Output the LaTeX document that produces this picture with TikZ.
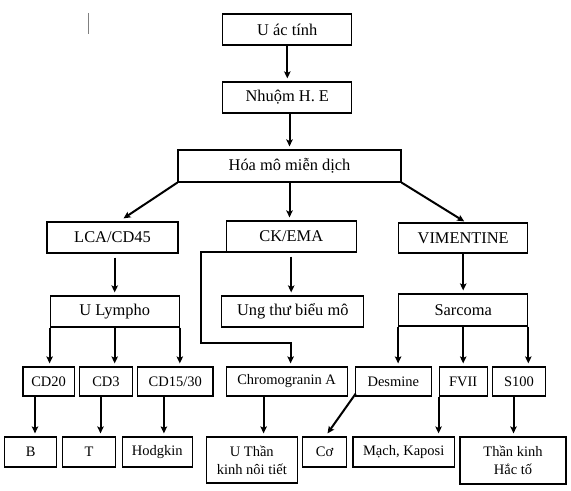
\documentclass[tikz,border=0pt]{standalone}
\usepackage{fontspec}
\setmainfont{Liberation Serif}
\usetikzlibrary{arrows.meta}

\tikzset{
 hop/.style={draw, line width=1.2bp, minimum height=31bp, inner sep=1pt, align=center, font=\fontsize{16.4bp}{19bp}\selectfont},
 hopnho/.style={hop, minimum height=29bp, font=\fontsize{14.5bp}{18bp}\selectfont},
 mui/.style={->, line width=2bp, shorten >=3bp},
}

\begin{document}
\begin{tikzpicture}[x=1bp, y=-1bp, >={Stealth[length=7bp,width=6.5bp,inset=1.5bp]}]
\useasboundingbox (0,0) rectangle (571,491);
\draw[gray, line width=0.8bp] (88.5,13)--(88.5,34);
% tang tren
\node[hop, minimum width=129bp] (act) at (287.3,29.5) {U ác tính};
\node[hop, minimum width=129bp] (nhuom) at (287.3,97.5) {Nhuộm H. E};
\node[hop, minimum width=223bp, minimum height=32bp] (hoa) at (289.5,166) {Hóa mô miễn dịch};
\node[hop, minimum width=131bp] (lca) at (112.5,237.5) {LCA/CD45};
\node[hop, minimum width=130bp] (ck) at (291.2,236.5) {CK/EMA};
\node[hop, minimum width=129bp, minimum height=30bp] (vim) at (463.2,238) {VIMENTINE};
\node[hop, minimum width=129bp] (lym) at (114.7,311.5) {U Lympho};
\node[hop, minimum width=142bp] (ung) at (292.8,311.5) {Ung thư biểu mô};
\node[hop, minimum width=129bp, minimum height=32bp] (sar) at (463.2,310) {Sarcoma};
% dau an
\node[hopnho, minimum width=51.3bp] (cd20) at (48.6,381.5) {CD20};
\node[hopnho, minimum width=52.4bp] (cd3) at (106,381.5) {CD3};
\node[hopnho, minimum width=75.4bp] (cd15) at (175.3,381.5) {CD15/30};
\node[hopnho, minimum width=121bp] (chr) at (286.6,381.5) {Chromogranin A};
\node[hopnho, minimum width=76bp] (des) at (393.3,381.5) {Desmine};
\node[hopnho, minimum width=48.1bp] (fvii) at (463.2,381.5) {FVII};
\node[hopnho, minimum width=52.4bp] (s100) at (519,381.5) {S100};
% ket qua
\node[hopnho, minimum width=52.4bp, minimum height=30bp] (B) at (30.6,452) {B};
\node[hopnho, minimum width=53.5bp, minimum height=30bp] (T) at (89,452) {T};
\node[hopnho, minimum width=69.9bp, minimum height=30bp] (hod) at (157.3,452) {Hodgkin};
\node[hopnho, minimum width=90.7bp, minimum height=46bp] (uth) at (251.8,460) {U Thần\\kinh nôi tiết};
\node[hopnho, minimum width=43.7bp, minimum height=30bp] (co) at (324.5,452) {Cơ};
\node[hopnho, minimum width=101.6bp, minimum height=30bp] (mach) at (403.7,452) {Mạch, Kaposi};
\node[hopnho, minimum width=106bp, minimum height=47bp] (than) at (513,460.5) {Thần kinh\\Hắc tố};

\draw[mui] (act.south) -- (nhuom.north);
\draw[mui] (nhuom.south -| hoa.north) -- (hoa.north);
\draw[mui] (hoa.south) -- (hoa.south |- ck.north);
\draw[mui, shorten >=0pt] (hoa.south west) -- ([xshift=11bp,yshift=3bp]lca.north);
\draw[mui, shorten >=0pt] (hoa.south east) -- ([xshift=1bp,yshift=1bp]vim.north);
\draw[mui, shorten <=4bp] (lca.south -| lym.north) -- (lym.north);
\draw[mui, shorten <=4bp] (ck.south) -- (ck.south |- ung.north);
\draw[mui] (vim.south) -- (sar.north);
\foreach \g in {south west, south, south east} {
 \draw[mui] (lym.\g) -- (lym.\g |- cd20.north);
 \draw[mui] (sar.\g) -- (sar.\g |- des.north);
}
\coordinate (gap) at (201,343);
\draw[mui] ([yshift=1bp]ck.south west) -| (gap) -| ([xshift=4bp]chr.north);
\foreach \a/\b/\d in {cd20/B/-13.6, cd3/T/-5.5, cd15/hod/-11.4, chr/uth/-23, s100/than/-5.5}
 \draw[mui] ([xshift=\d bp]\a.south) -- ([xshift=\d bp]\a.south |- \b.north);
\draw[mui] (fvii.south west) -- (fvii.south west |- mach.north);
\draw[mui, shorten >=0pt] ([xshift=1bp,yshift=3bp]des.south west) -- ([xshift=3bp,yshift=3bp]co.north);
\end{tikzpicture}
\end{document}
